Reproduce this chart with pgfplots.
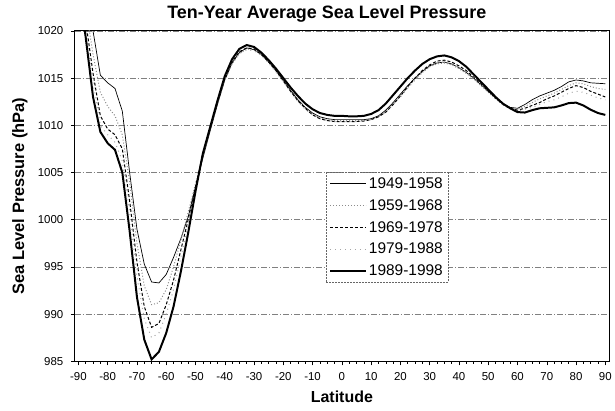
\documentclass[border=0pt]{standalone}
\usepackage{pgfplots}
\pgfplotsset{compat=1.18}
\usepackage{pgfplotstable}
\usepackage{fontspec}
\setmainfont{Liberation Sans}

\pgfplotstableread{
lat A B C D E
-90 1028 1027 1026 1025.5 1025
-87.5 1024 1022.5 1021 1020 1019.3
-85 1020 1017.5 1015.5 1014.5 1013.0
-82.5 1015.3 1013.5 1011.0 1010.0 1009.3
-80 1014.5 1012.0 1009.6 1009.0 1008.1
-77.5 1013.9 1011.0 1009.0 1008.2 1007.4
-75 1011.5 1009.0 1007.5 1006.2 1005.0
-72.5 1005.0 1004.0 1002.0 1000.8 998.8
-70 999.0 997.5 995.5 994.0 991.8
-67.5 995.3 993.0 990.8 989.5 987.3
-65 993.4 991.0 988.6 987.5 985.2
-62.5 993.3 991.2 989.0 988.0 986.0
-60 994.2 992.6 991.0 990.0 988.0
-57.5 996.0 995.0 993.6 992.6 990.8
-55 998.0 997.8 996.8 996.0 994.5
-52.5 1000.3 1000.8 1000.0 999.5 998.6
-50 1003.5 1003.8 1003.5 1003.2 1003.0
-47.5 1006.5 1006.8 1006.9 1006.8 1007.0
-45 1009.4 1009.6 1009.7 1009.7 1009.8
-42.5 1012.2 1012.3 1012.4 1012.4 1012.6
-40 1014.8 1014.8 1014.9 1014.8 1015.2
-37.5 1016.6 1016.5 1016.7 1016.5 1017.0
-35 1017.7 1017.6 1017.8 1017.6 1018.1
-32.5 1018.2 1018.1 1018.2 1018.0 1018.5
-30 1018.0 1018.0 1018.1 1017.9 1018.3
-27.5 1017.5 1017.5 1017.5 1017.4 1017.7
-25 1016.7 1016.7 1016.7 1016.6 1016.9
-22.5 1015.8 1015.7 1015.8 1015.6 1016.0
-20 1014.8 1014.7 1014.7 1014.6 1015.0
-17.5 1013.7 1013.6 1013.6 1013.5 1014.0
-15 1012.7 1012.6 1012.6 1012.5 1013.1
-12.5 1011.9 1011.8 1011.8 1011.7 1012.3
-10 1011.3 1011.2 1011.1 1011.1 1011.7
-7.5 1010.9 1010.8 1010.7 1010.7 1011.3
-5 1010.7 1010.6 1010.5 1010.5 1011.1
-2.5 1010.6 1010.5 1010.4 1010.4 1011.0
0 1010.6 1010.5 1010.4 1010.4 1011.0
2.5 1010.6 1010.5 1010.4 1010.4 1010.95
5 1010.6 1010.5 1010.4 1010.4 1010.95
7.5 1010.6 1010.5 1010.45 1010.5 1011.0
10 1010.7 1010.6 1010.6 1010.6 1011.2
12.5 1011.0 1010.9 1010.9 1010.9 1011.6
15 1011.6 1011.4 1011.4 1011.4 1012.3
17.5 1012.4 1012.2 1012.2 1012.2 1013.2
20 1013.3 1013.1 1013.1 1013.0 1014.1
22.5 1014.2 1014.0 1014.1 1013.9 1015.0
25 1015.0 1014.9 1015.0 1014.8 1015.8
27.5 1015.7 1015.6 1015.8 1015.6 1016.5
30 1016.3 1016.2 1016.4 1016.2 1017.0
32.5 1016.6 1016.5 1016.8 1016.6 1017.3
35 1016.7 1016.6 1016.9 1016.7 1017.4
37.5 1016.5 1016.4 1016.7 1016.5 1017.2
40 1016.1 1016.0 1016.3 1016.1 1016.8
42.5 1015.6 1015.5 1015.8 1015.6 1016.2
45 1015.0 1014.9 1015.1 1015.0 1015.4
47.5 1014.3 1014.2 1014.4 1014.3 1014.6
50 1013.6 1013.5 1013.6 1013.5 1013.8
52.5 1012.9 1012.8 1012.9 1012.8 1013.0
55 1012.3 1012.2 1012.2 1012.2 1012.3
57.5 1011.9 1011.8 1011.8 1011.7 1011.8
60 1011.8 1011.7 1011.6 1011.5 1011.4
62.5 1012.2 1012.0 1011.8 1011.7 1011.35
65 1012.7 1012.4 1012.1 1011.9 1011.6
67.5 1013.1 1012.8 1012.4 1012.2 1011.8
70 1013.4 1013.1 1012.8 1012.5 1011.85
72.5 1013.7 1013.4 1013.1 1012.7 1011.9
75 1014.1 1013.8 1013.5 1013.0 1012.1
77.5 1014.6 1014.2 1013.9 1013.4 1012.35
80 1014.8 1014.5 1014.2 1013.6 1012.4
82.5 1014.7 1014.4 1014.0 1013.5 1012.1
85 1014.5 1014.1 1013.6 1013.2 1011.65
87.5 1014.45 1013.9 1013.3 1012.9 1011.3
90 1014.4 1013.8 1013.0 1012.7 1011.1
}\slp

\begin{document}
\begin{tikzpicture}[x=1pt,y=1pt]
\path (0,0) rectangle (615,412);
\begin{axis}[
  at={(75pt,49.5pt)}, anchor=south west,
  scale only axis, width=536pt, height=331.5pt,
  xmin=-91.25, xmax=91.25, ymin=985, ymax=1020,
  xtick={-90,-80,...,90},
  xticklabels={-90,-80,-70,-60,-50,-40,-30,-20,-10,0,10,20,30,40,50,60,70,80,90},
  ytick={985,990,...,1020},
  yticklabels={985,990,995,1000,1005,1010,1015,1020},
  minor x tick num=3,
  tick align=outside,
  xtick pos=bottom, ytick pos=left,
  major tick length=4pt, minor tick length=2.5pt,
  tick style={black, line width=0.5pt},
  ticklabel style={font=\fontsize{11.5}{13}\selectfont},
  xticklabel style={yshift=-4pt},
  yticklabel style={xshift=-4pt},
  axis line style={black, line width=0.9pt},
  ymajorgrids,
  major grid style={black!50, line width=0.5pt, dash pattern=on 6pt off 2pt on 1pt off 2pt},
  xlabel={Latitude},
  ylabel={Sea Level Pressure (hPa)},
  xlabel style={font=\bfseries\fontsize{16}{19}\selectfont, at={(axis description cs:0.5,-0.1071)}, anchor=center},
  ylabel style={font=\bfseries\fontsize{16.5}{19}\selectfont, at={(axis description cs:-0.1026,0.5)}, anchor=center},
  legend style={at={(axis description cs:0.47,0.572)}, anchor=north west,
    draw=black!60, line width=0.5pt, dash pattern=on 2pt off 1pt,
    font=\fontsize{15.5}{17}\selectfont, row sep=5.6pt, inner xsep=3pt, inner ysep=3pt,
    cells={anchor=west}},
  legend image code/.code={\draw[#1] (0pt,0pt) -- (36pt,0pt);},
]
\addplot[black, solid, line width=0.7pt] table[x=lat, y=A] {\slp};
\addlegendentry{1949-1958}
\addplot[black!45, line width=1pt, dotted] table[x=lat, y=B] {\slp};
\addlegendentry{1959-1968}
\addplot[black, line width=1pt, dash pattern=on 3pt off 2pt] table[x=lat, y=C] {\slp};
\addlegendentry{1969-1978}
\addplot[black!35, line width=1pt, loosely dotted] table[x=lat, y=D] {\slp};
\addlegendentry{1979-1988}
\addplot[black, solid, line width=2pt] table[x=lat, y=E] {\slp};
\addlegendentry{1989-1998}
\end{axis}
\node[anchor=base, font=\bfseries\fontsize{18}{21}\selectfont] at (328,393.5) {Ten-Year Average Sea Level Pressure};
\end{tikzpicture}
\end{document}
